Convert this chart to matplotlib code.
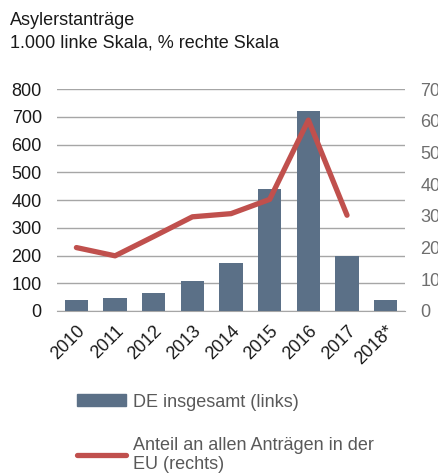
import matplotlib.pyplot as plt
from matplotlib.patches import Patch
from matplotlib.lines import Line2D

plt.rcParams['font.family'] = ['Liberation Sans', 'DejaVu Sans']

years = ['2010', '2011', '2012', '2013', '2014', '2015', '2016', '2017', '2018*']
antraege = [41, 46, 66, 108, 173, 440, 722, 198, 41]  # 1.000, linke Skala
anteil_eu = [20.0, 17.4, 23.5, 29.7, 30.7, 35.2, 60.2, 30.2]  # %, rechte Skala

BAR_COL = '#5b7087'
LINE_COL = '#c0504d'
GRID_COL = '#a6a6a6'
FS = 13

fig = plt.figure(figsize=(4.39, 4.73), dpi=100)
ax = fig.add_axes([0.130, 0.3425, 0.7926, 0.4693])
ax2 = ax.twinx()

x = list(range(len(years)))
ax.bar(x, antraege, width=0.6, color=BAR_COL, zorder=3)
ax2.plot(x[:len(anteil_eu)], anteil_eu, color=LINE_COL, lw=3.8,
         solid_capstyle='round', solid_joinstyle='round', zorder=4)

ax.set_xlim(-0.5, len(years) - 0.5)
ax.set_ylim(0, 800)
ax.set_yticks(range(0, 801, 100))
ax2.set_ylim(0, 70)
ax2.set_yticks(range(0, 71, 10))

ax.yaxis.grid(True, color=GRID_COL, lw=1.0, zorder=0)
ax.set_axisbelow(True)
for a in (ax, ax2):
    for s in ('top', 'left', 'right'):
        a.spines[s].set_visible(False)
ax.spines['bottom'].set_color(GRID_COL)
ax2.spines['bottom'].set_visible(False)

ax.set_xticks(x)
ax.set_xticklabels(years, rotation=45, ha='right', rotation_mode='anchor')
ax.tick_params(axis='x', length=0, pad=8, labelsize=FS, labelcolor='#1a1a1a')
ax.tick_params(axis='y', length=0, pad=11, labelsize=FS, labelcolor='#1a1a1a')
ax2.tick_params(axis='y', length=0, pad=11, labelsize=FS, labelcolor='#6e6e6e')

fig.text(0.023, 0.957, 'Asylerstanträge', fontsize=FS, color='#1a1a1a', va='center')
fig.text(0.023, 0.909, '1.000 linke Skala, % rechte Skala', fontsize=FS,
         color='#1a1a1a', va='center')

handles = [Patch(color=BAR_COL),
           Line2D([0], [0], color=LINE_COL, lw=3.8, solid_capstyle='round')]
labels = ['DE insgesamt (links)', 'Anteil an allen Anträgen in der\nEU (rechts)']
fig.legend(handles, labels, loc='upper left', bbox_to_anchor=(0.175, 0.168),
           frameon=False, fontsize=FS, labelcolor='#595959',
           handlelength=2.75, handleheight=0.6, handletextpad=0.35,
           labelspacing=1.45, borderaxespad=0, borderpad=0)

plt.savefig('out.png', dpi=100)
